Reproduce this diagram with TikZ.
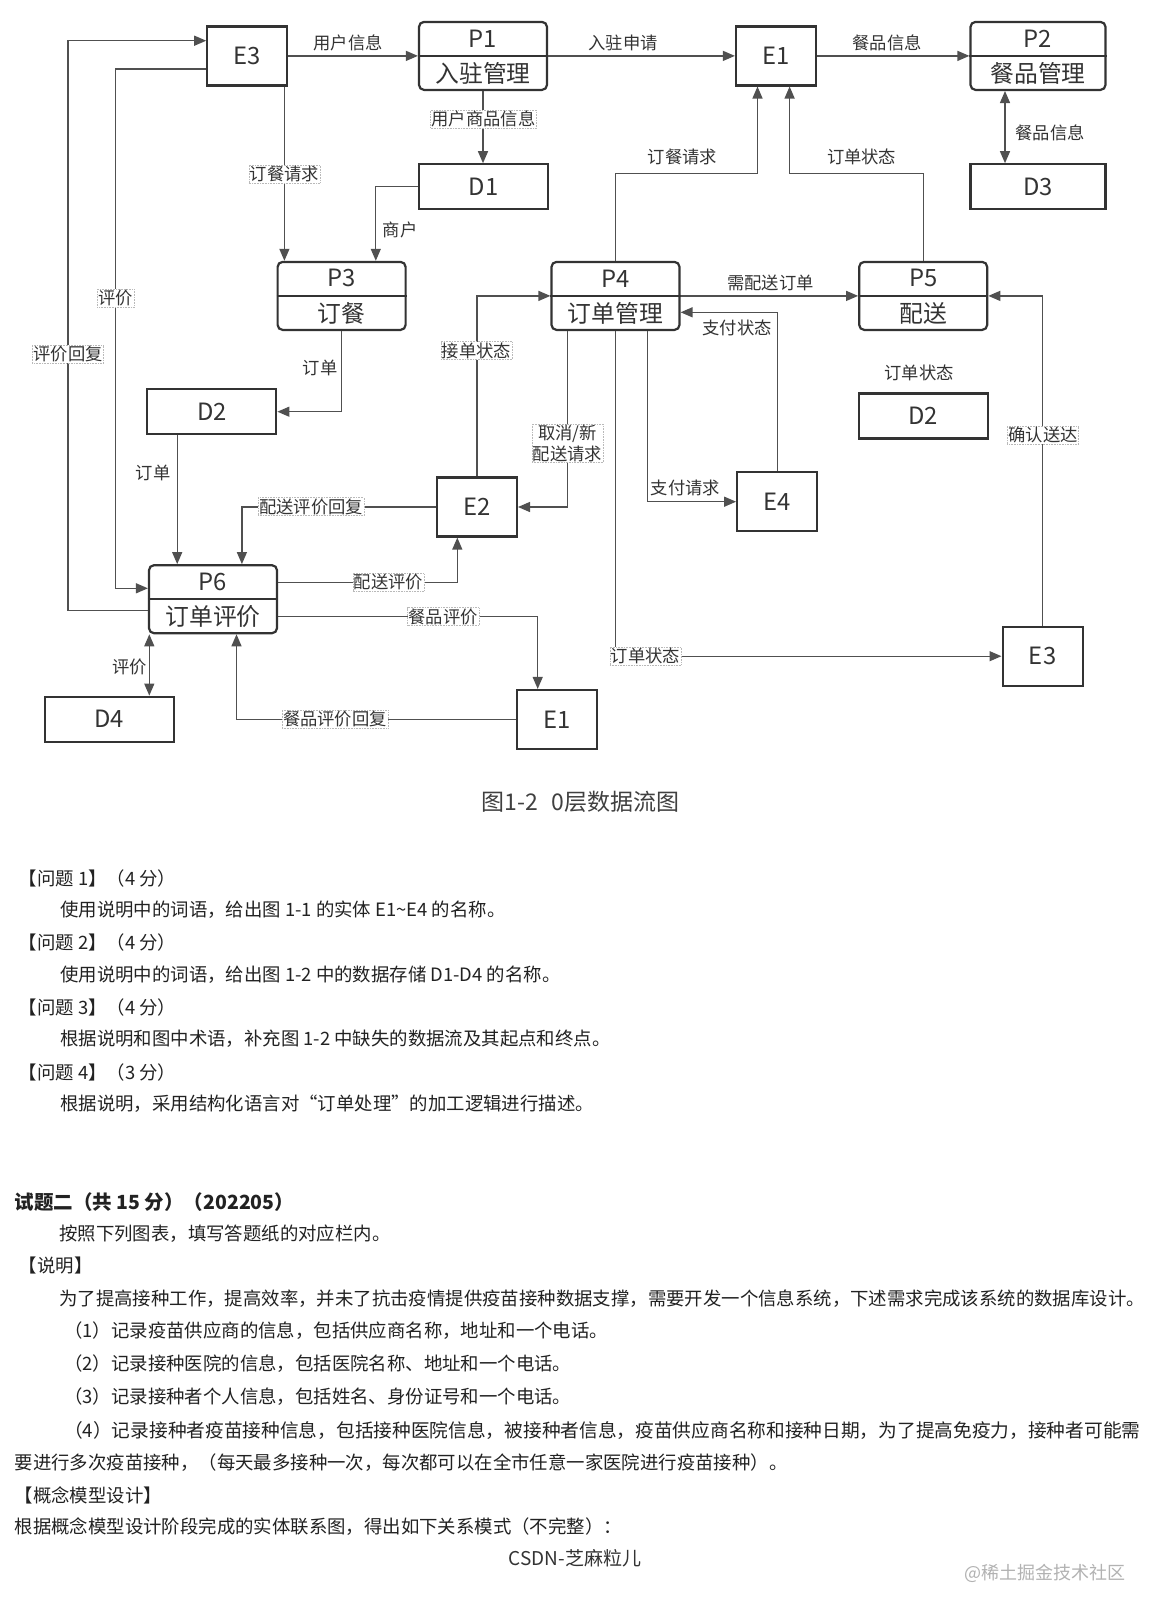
\documentclass[tikz,border=0pt]{standalone}
\usepackage{fontspec}
\setmainfont{Noto Sans CJK SC}
\usetikzlibrary{arrows.meta}
\definecolor{boxc}{HTML}{333333}
\definecolor{linec}{HTML}{505050}
\definecolor{txtc}{HTML}{333333}
\definecolor{bodyc}{HTML}{222222}
\begin{document}
\begin{tikzpicture}[x=1pt,y=-1pt,
  ent/.style={draw=boxc, line width=2.2pt, minimum width=80pt, minimum height=59pt, inner sep=0pt, text=boxc, font=\fontsize{23.8}{27}\selectfont},
  proc/.style={draw=boxc, line width=2.2pt, rounded corners=5pt, minimum width=128pt, minimum height=68pt, inner sep=0pt},
  store/.style={draw=boxc, line width=2.2pt, minimum width=129pt, minimum height=45pt, inner sep=0pt, text=boxc, font=\fontsize{23.8}{27}\selectfont},
  ptext/.style={inner sep=0pt, text=boxc, font=\fontsize{23.8}{27}\selectfont},
  divl/.style={draw=boxc, line width=2.2pt},
  flow/.style={draw=linec, line width=1.3pt, -{Triangle[length=12pt,width=10pt]}},
  biflow/.style={draw=linec, line width=1.3pt, {Triangle[length=12pt,width=10pt]}-{Triangle[length=12pt,width=10pt]}},
  lab/.style={inner sep=1pt, text=txtc, font=\fontsize{17.3}{20.5}\selectfont},
  blab/.style={lab, fill=white, draw=gray!55, densely dotted, line width=0.6pt},
  body/.style={anchor=west, inner sep=0pt, text=bodyc, font=\fontsize{18.4}{22}\selectfont}
]
\fill[white] (0,0) rectangle (1160,1620);
\useasboundingbox (0,0) rectangle (1160,1620);

% ---------- nodes ----------
\node[ent] (E3a) at (247.3,55.9) {E3};
\node[proc] (P1) at (483,55.9) {};
\node[ent] (E1a) at (776,55.9) {E1};
\node[proc, minimum width=135pt] (P2) at (1038,55.9) {};
\node[store] (D1) at (483.5,186.8) {D1};
\node[store, minimum width=135pt] (D3) at (1038,186.8) {D3};
\node[proc] (P3) at (341.6,295.9) {};
\node[proc] (P4) at (615.5,295.9) {};
\node[proc] (P5) at (923.2,295.9) {};
\node[store] (D2a) at (211.8,411.7) {D2};
\node[store] (D2b) at (923.2,416) {D2};
\node[ent] (E2) at (476.9,507) {E2};
\node[ent] (E4) at (777.2,501.7) {E4};
\node[proc] (P6) at (213,599.2) {};
\node[ent] (E3b) at (1042.6,656.2) {E3};
\node[store] (D4) at (109.1,719.2) {D4};
\node[ent] (E1b) at (557.2,719.5) {E1};

\foreach \n/\t in {P1/入驻管理, P2/餐品管理, P3/订餐, P4/订单管理, P5/配送, P6/订单评价}{
  \draw[divl] (\n.west) -- (\n.east);
  \path (\n.north) -- node[ptext]{\n} (\n.center);
  \path (\n.center) -- node[ptext]{\t} (\n.south);
}

% ---------- helper coordinates ----------
\coordinate (xa) at (284.4,0);
\coordinate (xb) at (375.8,0);
\coordinate (xc) at (68,0);
\coordinate (xd) at (115.6,0);
\coordinate (ya) at (0,40.7);
\coordinate (yb) at (0,69);
\coordinate (yc) at (0,610.7);
\coordinate (yd) at (0,588.3);
\coordinate (xf) at (177.2,0);
\coordinate (yh) at (0,173.3);
\coordinate (xi) at (757.5,0);
\coordinate (xj) at (789.6,0);
\coordinate (yl) at (0,312.3);
\coordinate (xn) at (567.7,0);
\coordinate (xo) at (647.3,0);
\coordinate (xp) at (241.9,0);
\coordinate (yq) at (0,582.3);
\coordinate (xq) at (457.3,0);
\coordinate (yr) at (0,616.7);
\coordinate (xr) at (537.7,0);
\coordinate (xs) at (149.3,0);
\coordinate (xt) at (236.5,0);
\coordinate (x5) at (1005,0);

% ---------- connectors ----------
\draw[flow] (E3a) -- (P1);
\draw[flow] (P1) -- (E1a);
\draw[flow] (E1a) -- (P2);
\draw[flow] (P1.south) -- (P1.south |- D1.north);
\draw[biflow] (x5 |- P2.south) -- (x5 |- D3.north);
\draw[flow] (xa |- E3a.south) -- (xa |- P3.north);
\draw[flow] (D1.west) -| (xb |- P3.north);
\draw[flow] (yc -| P6.west) -| (xc |- ya) -- (ya -| E3a.west);
\draw[flow] (yb -| E3a.west) -| (xd |- yd) -- (yd -| P6.west);
\draw[flow] (P3.south) |- (D2a.east);
\draw[flow] (xf |- D2a.south) -- (xf |- P6.north);
\draw[flow] (P4.north) |- (yh -| xi) -- (xi |- E1a.south);
\draw[flow] (P5.north) |- (yh -| xj) -- (xj |- E1a.south);
\draw[flow] (P4) -- (P5);
\draw[flow] (E4.north) |- (yl -| P4.east);
\draw[flow] (E3b.north) |- (P5.east);
\draw[flow] (E2.north) |- (P4.west);
\draw[flow] (xn |- P4.south) |- (E2.east);
\draw[flow] (xo |- P4.south) |- (E4.west);
\draw[flow] (P4.south) |- (E3b.west);
\draw[flow] (E2.west) -| (xp |- P6.north);
\draw[flow] (yq -| P6.east) -| (xq |- E2.south);
\draw[flow] (yr -| P6.east) -| (xr |- E1b.north);
\draw[biflow] (xs |- P6.south) -- (xs |- D4.north);
\draw[flow] (E1b.west) -| (xt |- P6.south);

% ---------- labels ----------
\node[lab] (l1) at (348,42.5) {用户信息};
\node[lab] (l2) at (623,42.5) {入驻申请};
\node[lab] (l3) at (887,42.5) {餐品信息};
\node[blab] (l4) at (483.4,119.3) {用户商品信息};
\node[lab] (l5) at (1050,133) {餐品信息};
\node[blab] (l6) at (284.4,174) {订餐请求};
\node[lab] (l7) at (400,230) {商户};
\node[blab] (l8) at (68,354) {评价回复};
\node[blab] (l9) at (115.6,298.3) {评价};
\node[lab] (l10) at (320,368.3) {订单};
\node[lab] (l11) at (153,472.7) {订单};
\node[lab] (l12) at (682.5,156.7) {订餐请求};
\node[lab] (l13) at (861.6,156.7) {订单状态};
\node[lab] (l14) at (770.5,282.7) {需配送订单};
\node[lab] (l15) at (737,328.3) {支付状态};
\node[blab] (l16) at (1043,435) {确认送达};
\node[blab] (l17) at (476.5,350.7) {接单状态};
\node[blab, align=center] (l18) at (567.5,443.3) {取消/新\\配送请求};
\node[lab] (l19) at (685.5,488.3) {支付请求};
\node[blab] (l20) at (645.5,656) {订单状态};
\node[blab] (l21) at (311,506.7) {配送评价回复};
\node[blab] (l22) at (388.4,582.3) {配送评价};
\node[blab] (l23) at (443.2,616.7) {餐品评价};
\node[lab] (l24) at (129.4,666.7) {评价};
\node[blab] (l25) at (334.9,719.3) {餐品评价回复};
\node[lab] (l26) at (919,373.3) {订单状态};

% ---------- caption ----------
\node[inner sep=0pt, text=black!75, font=\fontsize{23}{27}\selectfont] (cap) at (580.5,801.5) {图1-2\hspace{0.6em}0层数据流图};

% ---------- body text ----------
\node[body] (t1) at (18.6,878) {【问题 1】（4 分）};
\node[body] (t2) at (60,910) {使用说明中的词语，给出图 1-1 的实体 E1\textasciitilde E4 的名称。};
\node[body] (t3) at (18.6,942) {【问题 2】（4 分）};
\node[body] (t4) at (60,975) {使用说明中的词语，给出图 1-2 中的数据存储 D1-D4 的名称。};
\node[body] (t5) at (18.6,1007) {【问题 3】（4 分）};
\node[body] (t6) at (60,1039) {根据说明和图中术语，补充图 1-2 中缺失的数据流及其起点和终点。};
\node[body] (t7) at (18.6,1072) {【问题 4】（3 分）};
\node[body] (t8) at (60,1104) {根据说明，采用结构化语言对“订单处理”的加工逻辑进行描述。};

\node[body, font=\fontsize{19.5}{23}\selectfont\bfseries] (s1) at (14.5,1202) {试题二（共 15 分）（202205）};
\node[body] (s2) at (59,1234) {按照下列图表，填写答题纸的对应栏内。};
\node[body] (s3) at (18.6,1266) {【说明】};
\node[body] (s4) at (59,1299) {为了提高接种工作，提高效率，并未了抗击疫情提供疫苗接种数据支撑，需要开发一个信息系统，下述需求完成该系统的数据库设计。};
\node[body] (s5) at (64,1331) {（1）记录疫苗供应商的信息，包括供应商名称，地址和一个电话。};
\node[body] (s6) at (64,1364) {（2）记录接种医院的信息，包括医院名称、地址和一个电话。};
\node[body] (s7) at (64,1397) {（3）记录接种者个人信息，包括姓名、身份证号和一个电话。};
\node[body, font=\fontsize{18.7}{22}\selectfont] (s8) at (64,1430) {（4）记录接种者疫苗接种信息，包括接种医院信息，被接种者信息，疫苗供应商名称和接种日期，为了提高免疫力，接种者可能需};
\node[body] (s9) at (14.5,1463) {要进行多次疫苗接种，（每天最多接种一次，每次都可以在全市任意一家医院进行疫苗接种）。};
\node[body] (s10) at (14.5,1495) {【概念模型设计】};
\node[body] (s11) at (14.5,1527) {根据概念模型设计阶段完成的实体联系图，得出如下关系模式（不完整）：};
\node[inner sep=0pt, text=black!80, font=\fontsize{19}{23}\selectfont] (csdn) at (575,1558) {CSDN-芝麻粒儿};
\node[inner sep=0pt, text=black!30, font=\fontsize{18}{22}\selectfont] (wm) at (1045,1573) {@稀土掘金技术社区};
\end{tikzpicture}
\end{document}
